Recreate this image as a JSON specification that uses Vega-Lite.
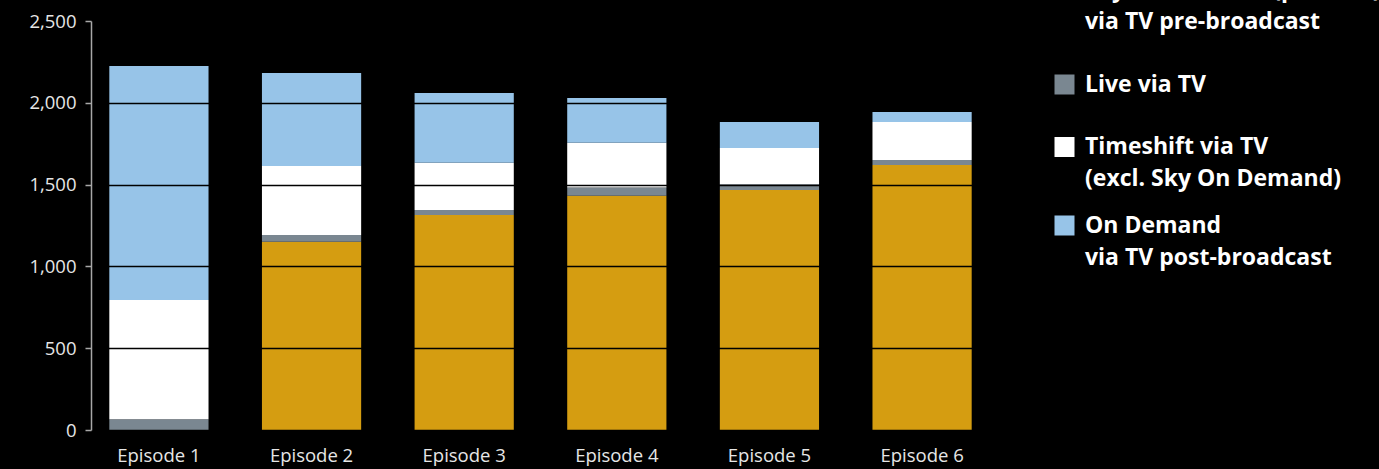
{
  "$schema": "https://vega.github.io/schema/vega-lite/v6.json",
  "background": "#000000",
  "autosize": {"type": "none"},
  "padding": {"left": 91, "top": 21, "right": 389, "bottom": 39},
  "width": 899,
  "height": 409,
  "data": {
    "values": [
      {"episode": "Episode 1", "type": "Sky On Demand (preview)|via TV pre-broadcast", "order": 1, "value": 0},
      {"episode": "Episode 1", "type": "Live via TV", "order": 2, "value": 65},
      {"episode": "Episode 1", "type": "Timeshift via TV|(excl. Sky On Demand)", "order": 3, "value": 730},
      {"episode": "Episode 1", "type": "On Demand|via TV post-broadcast", "order": 4, "value": 1430},
      {"episode": "Episode 2", "type": "Sky On Demand (preview)|via TV pre-broadcast", "order": 1, "value": 1150},
      {"episode": "Episode 2", "type": "Live via TV", "order": 2, "value": 42},
      {"episode": "Episode 2", "type": "Timeshift via TV|(excl. Sky On Demand)", "order": 3, "value": 422},
      {"episode": "Episode 2", "type": "On Demand|via TV post-broadcast", "order": 4, "value": 568},
      {"episode": "Episode 3", "type": "Sky On Demand (preview)|via TV pre-broadcast", "order": 1, "value": 1314},
      {"episode": "Episode 3", "type": "Live via TV", "order": 2, "value": 31},
      {"episode": "Episode 3", "type": "Timeshift via TV|(excl. Sky On Demand)", "order": 3, "value": 289},
      {"episode": "Episode 3", "type": "On Demand|via TV post-broadcast", "order": 4, "value": 426},
      {"episode": "Episode 4", "type": "Sky On Demand (preview)|via TV pre-broadcast", "order": 1, "value": 1432},
      {"episode": "Episode 4", "type": "Live via TV", "order": 2, "value": 51},
      {"episode": "Episode 4", "type": "Timeshift via TV|(excl. Sky On Demand)", "order": 3, "value": 273},
      {"episode": "Episode 4", "type": "On Demand|via TV post-broadcast", "order": 4, "value": 273},
      {"episode": "Episode 5", "type": "Sky On Demand (preview)|via TV pre-broadcast", "order": 1, "value": 1467},
      {"episode": "Episode 5", "type": "Live via TV", "order": 2, "value": 35},
      {"episode": "Episode 5", "type": "Timeshift via TV|(excl. Sky On Demand)", "order": 3, "value": 222},
      {"episode": "Episode 5", "type": "On Demand|via TV post-broadcast", "order": 4, "value": 159},
      {"episode": "Episode 6", "type": "Sky On Demand (preview)|via TV pre-broadcast", "order": 1, "value": 1620},
      {"episode": "Episode 6", "type": "Live via TV", "order": 2, "value": 30},
      {"episode": "Episode 6", "type": "Timeshift via TV|(excl. Sky On Demand)", "order": 3, "value": 233},
      {"episode": "Episode 6", "type": "On Demand|via TV post-broadcast", "order": 4, "value": 61}
    ]
  },
  "mark": {"type": "bar"},
  "encoding": {
    "x": {
      "field": "episode",
      "type": "nominal",
      "sort": null,
      "scale": {"paddingInner": 0.35, "paddingOuter": 0.12},
      "axis": {
        "title": null,
        "labelAngle": 0,
        "ticks": false,
        "tickSize": 0,
        "domain": false,
        "grid": false,
        "labelPadding": 16,
        "labelFont": "Open Sans",
        "labelFontSize": 18.5,
        "labelColor": "#e6e6e6"
      }
    },
    "y": {
      "field": "value",
      "type": "quantitative",
      "stack": "zero",
      "scale": {"domain": [0, 2500], "nice": false},
      "axis": {
        "title": null,
        "values": [0, 500, 1000, 1500, 2000, 2500],
        "format": ",.0f",
        "grid": true,
        "gridColor": "#000000",
        "gridWidth": 1.5,
        "zindex": 1,
        "domainColor": "#a8a8a8",
        "domainWidth": 1.5,
        "tickColor": "#a8a8a8",
        "tickWidth": 1.5,
        "tickSize": 6,
        "labelPadding": 9,
        "labelFont": "Open Sans",
        "labelFontSize": 18.5,
        "labelColor": "#e6e6e6"
      }
    },
    "color": {
      "field": "type",
      "type": "nominal",
      "scale": {
        "domain": [
          "Sky On Demand (preview)|via TV pre-broadcast",
          "Live via TV",
          "Timeshift via TV|(excl. Sky On Demand)",
          "On Demand|via TV post-broadcast"
        ],
        "range": ["#D59D11", "#7A8791", "#FFFFFF", "#97C4E8"]
      },
      "legend": {
        "orient": "none",
        "legendX": 962,
        "legendY": -42.5,
        "title": null,
        "direction": "vertical",
        "padding": 0,
        "symbolType": "square",
        "symbolSize": 400,
        "symbolStrokeWidth": 0,
        "symbolOpacity": 1,
        "labelFont": "Open Sans",
        "labelFontSize": 23,
        "labelFontWeight": "bold",
        "labelColor": "#ffffff",
        "labelLimit": 600,
        "labelOffset": 9,
        "rowPadding": 21.5,
        "labelExpr": "split(datum.label, '|')",
        "encode": {
          "labels": {"update": {"lineHeight": {"value": 32}}},
          "symbols": {
            "update": {
              "shape": {
                "signal": "indexof(datum.value, '|') >= 0 ? 'M-1,-1H1V1H-1ZM0,-1.2M0,4.4' : 'M-1,-1H1V1H-1ZM0,-2.8M0,2.8'"
              }
            }
          }
        }
      }
    },
    "order": {"field": "order", "type": "quantitative", "sort": "ascending"}
  },
  "config": {"view": {"stroke": null}}
}
